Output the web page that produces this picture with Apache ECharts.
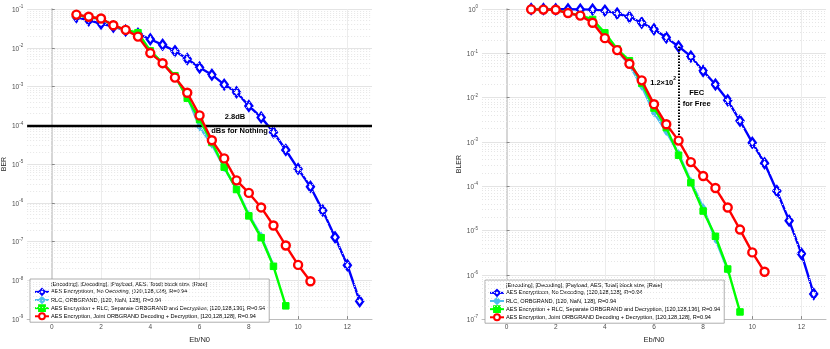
<!DOCTYPE html>
<html><head><meta charset="utf-8">
<script src="https://cdn.jsdelivr.net/npm/echarts@6/dist/echarts.min.js"></script>
<style>html,body{margin:0;padding:0;background:#fff}#c{width:830px;height:349px}</style>
</head><body><div id="c"></div>
<script>
// ---------- data ----------
const xBlue  = [1,1.5,2,2.5,3,3.5,4,4.5,5,5.5,6,6.5,7,7.5,8,8.5,9,9.5,10,10.5,11,11.5,12,12.5];
const xRed   = [1,1.5,2,2.5,3,3.5,4,4.5,5,5.5,6,6.5,7,7.5,8,8.5,9,9.5,10,10.5];
const xGreen = [1,1.5,2,2.5,3,3.5,4,4.5,5,5.5,6,6.5,7,7.5,8,8.5,9,9.5];
const xCyan  = [1,1.5,2,2.5,3,3.5,4,4.5,5,5.5,6,6.5,7,7.5,8,8.5,9];

const berBlue  = [0.062,0.051,0.042,0.035,0.028,0.023,0.0166,0.0119,0.0082,0.0051,0.0031,0.00202,0.00112,7.1e-4,3.16e-4,1.6e-4,6.6e-5,2.3e-5,7.5e-6,2.6e-6,6.3e-7,1.3e-7,2.45e-8,2.9e-9];
const berCyan  = [0.068,0.06,0.055,0.037,0.028,0.023,0.0078,0.0040,0.0018,5.5e-4,9e-5,3.2e-5,8.0e-6,2.3e-6,5.0e-7,1.4e-7,2.4e-8];
const berGreen = [0.07,0.062,0.056,0.038,0.029,0.0245,0.0083,0.0041,0.0019,5e-4,1.4e-4,3.6e-5,8.3e-6,2.2e-6,4.6e-7,1.26e-7,2.3e-8,2.2e-9];
const berRed   = [0.0716,0.063,0.057,0.038,0.029,0.0194,0.0073,0.0040,0.0017,6.9e-4,1.8e-4,4.1e-5,1.4e-5,3.8e-6,1.8e-6,7.6e-7,2.6e-7,7.9e-8,2.5e-8,9.5e-9];

const blerBlue  = [1.0,1.0,0.99,0.99,0.98,0.97,0.92,0.79,0.66,0.49,0.35,0.226,0.143,0.085,0.040,0.0197,0.0087,0.0030,9.6e-4,3.3e-4,7.8e-5,1.67e-5,3.0e-6,3.7e-7];
const blerCyan  = [0.98,0.97,0.96,0.81,0.70,0.52,0.25,0.115,0.055,0.018,0.0045,0.0017,5.5e-4,1.3e-4,3.3e-5,6.3e-6,1.3e-6];
const blerGreen = [0.98,0.97,0.96,0.82,0.72,0.58,0.29,0.125,0.068,0.021,0.0058,0.0021,5e-4,1.2e-4,2.75e-5,7.4e-6,1.35e-6,1.45e-7];
const blerRed   = [0.98,0.97,0.96,0.81,0.71,0.49,0.22,0.118,0.058,0.0245,0.0071,0.0025,0.00107,3.5e-4,1.7e-4,9.1e-5,3.3e-5,1.05e-5,3.2e-6,1.17e-6];

const seriesNames = [
  'AES Encryptioon, No Decoding, [120,128,128], R=0.94',
  'RLC, ORBGRAND, [120, NaN, 128], R=0.94',
  'AES Encryption + RLC, Separate ORBGRAND and Decryption, [120,128,136], R=0.94',
  'AES Encryption, Joint ORBGRAND Decoding + Decryption, [120,128,128], R=0.94'
];
const legendTitle = '[Encoding], [Decoding], [Payload, AES, Total] block size, [Rate]';
const xTicks = [0,2,4,6,8,10,12];
const berTicks = [1e-9,1e-8,1e-7,1e-6,1e-5,1e-4,1e-3,1e-2,1e-1];
const blerTicks = [1e-7,1e-6,1e-5,1e-4,1e-3,1e-2,1e-1,1];

// annotations (data space)
const berThreshold = 1e-4;
const berGap = [[6.13,1e-4],[8.79,1e-4]];
const berText = [{x:7.44,y:1.6e-4,t:'2.8dB'},{x:7.62,y:7.1e-5,t:'dBs for Nothing'}];
const blerGap = [[7,0.143],[7,0.00107]];

// ---------- helpers ----------
const FONT = "'Liberation Sans', Arial, sans-serif";
const XMIN = -1, XMAX = 13;
const zip = (xs, ys) => xs.map((x,i)=>[x, ys[i]]);
function minorValues(lo, hi){ const out=[]; for(let e=lo;e<hi;e++){ for(let m=2;m<=9;m++) out.push(m*Math.pow(10,e)); } return out; }

const colors = ['#0000ff','#4dbeee','#00ff00','#ff0000'];
function makeSeries(gi, xs, ys) {
  const base = (k) => ({ name: seriesNames[k], type:'line', xAxisIndex:gi, yAxisIndex:gi, z: 3+k,
      lineStyle:{color:colors[k], width:2.4}, color: colors[k], animation:false });
  return [
    Object.assign(base(0), {data: zip(xs[0], ys[0]), symbol:'diamond', symbolSize:[7,9.5],
      itemStyle:{color:'#ffffff', borderColor:colors[0], borderWidth:2.4}}),
    Object.assign(base(1), {data: zip(xs[1], ys[1]), symbol:'diamond', symbolSize:[5,7],
      itemStyle:{color:colors[1], borderColor:colors[1], borderWidth:1}}),
    Object.assign(base(2), {data: zip(xs[2], ys[2]), symbol:'rect', symbolSize:6.5,
      itemStyle:{color:colors[2], borderColor:colors[2], borderWidth:1}}),
    Object.assign(base(3), {data: zip(xs[3], ys[3]), symbol:'circle', symbolSize:8,
      itemStyle:{color:'#ffffff', borderColor:colors[3], borderWidth:2.4}})
  ];
}

function supLabel(v){ const e = Math.round(Math.log10(v)); return '{b|10}{s|' + e + '}'; }

function xAxis(gi){
  return { type:'value', gridIndex:gi, min:XMIN, max:XMAX,
    name:'Eb/N0', nameLocation:'middle', nameGap:15, nameTextStyle:{fontSize:7.5, color:'#262626', fontFamily:FONT},
    axisLine:{onZero:false, lineStyle:{color:'#bdbdbd', width:1}},
    axisTick:{inside:true, length:3, customValues:xTicks, lineStyle:{color:'#888'}},
    axisLabel:{customValues:xTicks, fontSize:6.5, color:'#4d4d4d', margin:5, fontFamily:FONT},
    splitLine:{show:true, lineStyle:{color:'#ececec', width:1}} };
}
function yAxis(gi, lo, hi, ticks, name){
  return { type:'log', logBase:10, gridIndex:gi, min:lo, max:hi,
    name:name, nameLocation:'middle', nameGap:19, nameRotate:90, nameTextStyle:{fontSize:7, color:'#262626', fontFamily:FONT},
    axisLine:{show:true, lineStyle:{color:'#d6d6d6', width:2}},
    axisTick:{inside:true, length:3, customValues:ticks, lineStyle:{color:'#888'}},
    axisLabel:{customValues:ticks, formatter:supLabel, margin:4, fontFamily:FONT,
      rich:{ b:{fontSize:6.5, color:'#4d4d4d', fontFamily:FONT, verticalAlign:'bottom', lineHeight:9},
             s:{fontSize:4.5, color:'#4d4d4d', fontFamily:FONT, verticalAlign:'top', lineHeight:9} }},
    splitLine:{show:true, lineStyle:{color:'#e4e4e4', width:1}} };
}
function hLine(v, style){ return [ {coord:[XMIN, v], lineStyle:style}, {coord:[XMAX, v]} ]; }
function minorGridSeries(gi, lo, hi){
  const st = {color:'#e6e6e6', type:[1,2], width:1};
  return { type:'line', xAxisIndex:gi, yAxisIndex:gi, data:[], silent:true, z:1,
    markLine:{ silent:true, symbol:['none','none'], label:{show:false}, animation:false,
      lineStyle:st, data: minorValues(lo, hi).map(v=>hLine(v, st)) } };
}
function legend(left, top){
  return { orient:'vertical', left:left, top:top, padding:[2,4,2,4], itemGap:0.3, itemWidth:14, itemHeight:7.3,
    backgroundColor:'#ffffff', borderColor:'#9a9a9a', borderWidth:0.8, selectedMode:false,
    textStyle:{fontSize:5.6, color:'#000', fontFamily:FONT, padding:[0,0,0,-3]},
    data:[{name:legendTitle, icon:'none'}].concat(seriesNames.map(n=>({name:n}))) };
}
function annotText(gi, items){
  return { type:'line', xAxisIndex:gi, yAxisIndex:gi, data:[], silent:true, z:20, zlevel:1,
    markPoint:{ symbol:'circle', symbolSize:0, animation:false,
      data: items.map(a=>({coord:[a.x,a.y], label:Object.assign({show:true, position:'inside', formatter:a.t,
        fontSize:7.5, fontWeight:'bold', color:'#000', fontFamily:FONT}, a.label||{})})) } };
}

const option = {
  animation:false,
  grid:[ {left:26, top:9, width:346, height:315}, {left:482, top:9, width:344, height:315} ],
  xAxis:[ xAxis(0), xAxis(1) ],
  yAxis:[ yAxis(0,1e-9,1e-1,berTicks,'BER'), yAxis(1,1e-7,1,blerTicks,'BLER') ],
  legend:[ legend(30,279), legend(485,280) ],
  series: [
    {name:legendTitle, type:'line', data:[], xAxisIndex:0, yAxisIndex:0},
    minorGridSeries(0,-9,-1), minorGridSeries(1,-7,0),
    { type:'line', xAxisIndex:0, yAxisIndex:0, data:[], silent:true, z:2,
      markLine:{ silent:true, symbol:['none','none'], label:{show:false}, animation:false,
        data:[ hLine(berThreshold, {color:'#000', width:2.4, type:'solid'}),
               [ {coord:berGap[0], lineStyle:{color:'#000', width:2, type:[1.5,1.5]}}, {coord:berGap[1]} ] ] } },
    ...makeSeries(0, [xBlue,xCyan,xGreen,xRed], [berBlue,berCyan,berGreen,berRed]),
    ...makeSeries(1, [xBlue,xCyan,xGreen,xRed], [blerBlue,blerCyan,blerGreen,blerRed]),
    { type:'line', xAxisIndex:1, yAxisIndex:1, data:[], silent:true, z:9,
      markLine:{ silent:true, symbol:['none','none'], label:{show:false}, animation:false,
        data:[ [ {coord:blerGap[0], lineStyle:{color:'#000', width:2, type:[1.5,1.5]}}, {coord:blerGap[1]} ] ] } },
    annotText(0, berText),
    annotText(1, [
      {x:6.37, y:0.023, t:'{m|1.2\u00d710}{s|2}', label:{rich:{m:{fontSize:7.5,fontWeight:'bold',color:'#000',fontFamily:FONT,verticalAlign:'bottom',lineHeight:10}, s:{fontSize:5,fontWeight:'bold',color:'#000',fontFamily:FONT,verticalAlign:'top',lineHeight:10}}}},
      {x:7.74, y:0.0125, t:'FEC'},
      {x:7.74, y:0.0072, t:'for Free'}
    ])
  ]
};
const chart = echarts.init(document.getElementById('c'), null, {renderer:'canvas'});
chart.setOption(option);
</script></body></html>
